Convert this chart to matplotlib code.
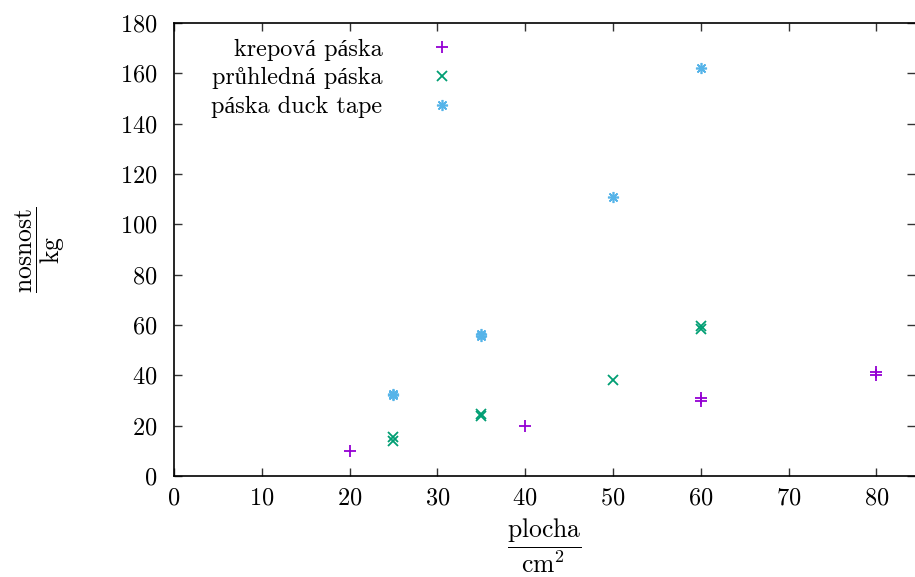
import numpy as np
import matplotlib
matplotlib.use('Agg')
import matplotlib.pyplot as plt

plt.rcParams['font.family'] = ['cmr10', 'Liberation Serif']
plt.rcParams['mathtext.fontset'] = 'cm'
plt.rcParams['axes.formatter.use_mathtext'] = True

krep_x = [20, 40, 60, 60, 80, 80]
krep_y = [10, 20, 30, 31, 40, 41.5]

pruh_x = [25, 25, 35, 35, 50, 60, 60]
pruh_y = [14, 15.5, 23.8, 24.6, 38, 58.5, 59.7]

duck_x = [25, 25, 35, 35, 50, 60]
duck_y = [32, 32.5, 55.5, 56.5, 111, 162]

labels = ['krepová páska', 'průhledná páska', 'páska duck tape']
x_ticks = [0, 10, 20, 30, 40, 50, 60, 70, 80]
y_ticks = [0, 20, 40, 60, 80, 100, 120, 140, 160, 180]

fs = 17.5
fig = plt.figure(figsize=(9.15, 5.77), dpi=100)
ax = fig.add_axes([174 / 915, 1 - 476 / 577, (915 - 174) / 915, (476 - 23) / 577])

ax.plot(krep_x, krep_y, linestyle='none', marker='+', ms=8, mew=1.3,
        color='#9400D3', label=labels[0])
ax.plot(pruh_x, pruh_y, linestyle='none', marker='x', ms=6.5, mew=1.3,
        color='#009E73', label=labels[1])
ax.plot(duck_x, duck_y, linestyle='none', marker=(8, 2, 0), ms=8, mew=1.2,
        color='#56B4E9', label=labels[2])

ax.set_xlim(0, 84.4)
ax.set_ylim(0, 180)
ax.set_xticks(x_ticks)
ax.set_yticks(y_ticks)
ax.tick_params(direction='in', length=6, width=1, labelsize=fs,
               top=True, right=True, color='#333333')
ax.tick_params(axis='x', pad=8)
ax.tick_params(axis='y', pad=12)
ax.spines['right'].set_visible(False)
for s in ['left', 'top', 'bottom']:
    ax.spines[s].set_linewidth(1.2)

ax.set_xlabel(r'$\dfrac{\mathrm{plocha}}{\mathrm{cm}^2}$', fontsize=18.5, labelpad=5)
ax.set_ylabel(r'$\dfrac{\mathrm{nosnost}}{\mathrm{kg}}$', fontsize=18.5, labelpad=38)

leg = ax.legend(loc='upper right', bbox_to_anchor=(0.378, 0.966), frameon=False,
                markerfirst=False, handlelength=1.0, handletextpad=1.95,
                borderpad=0, borderaxespad=0, labelspacing=0.28, fontsize=fs)

fig.savefig('out.png', dpi=100)
